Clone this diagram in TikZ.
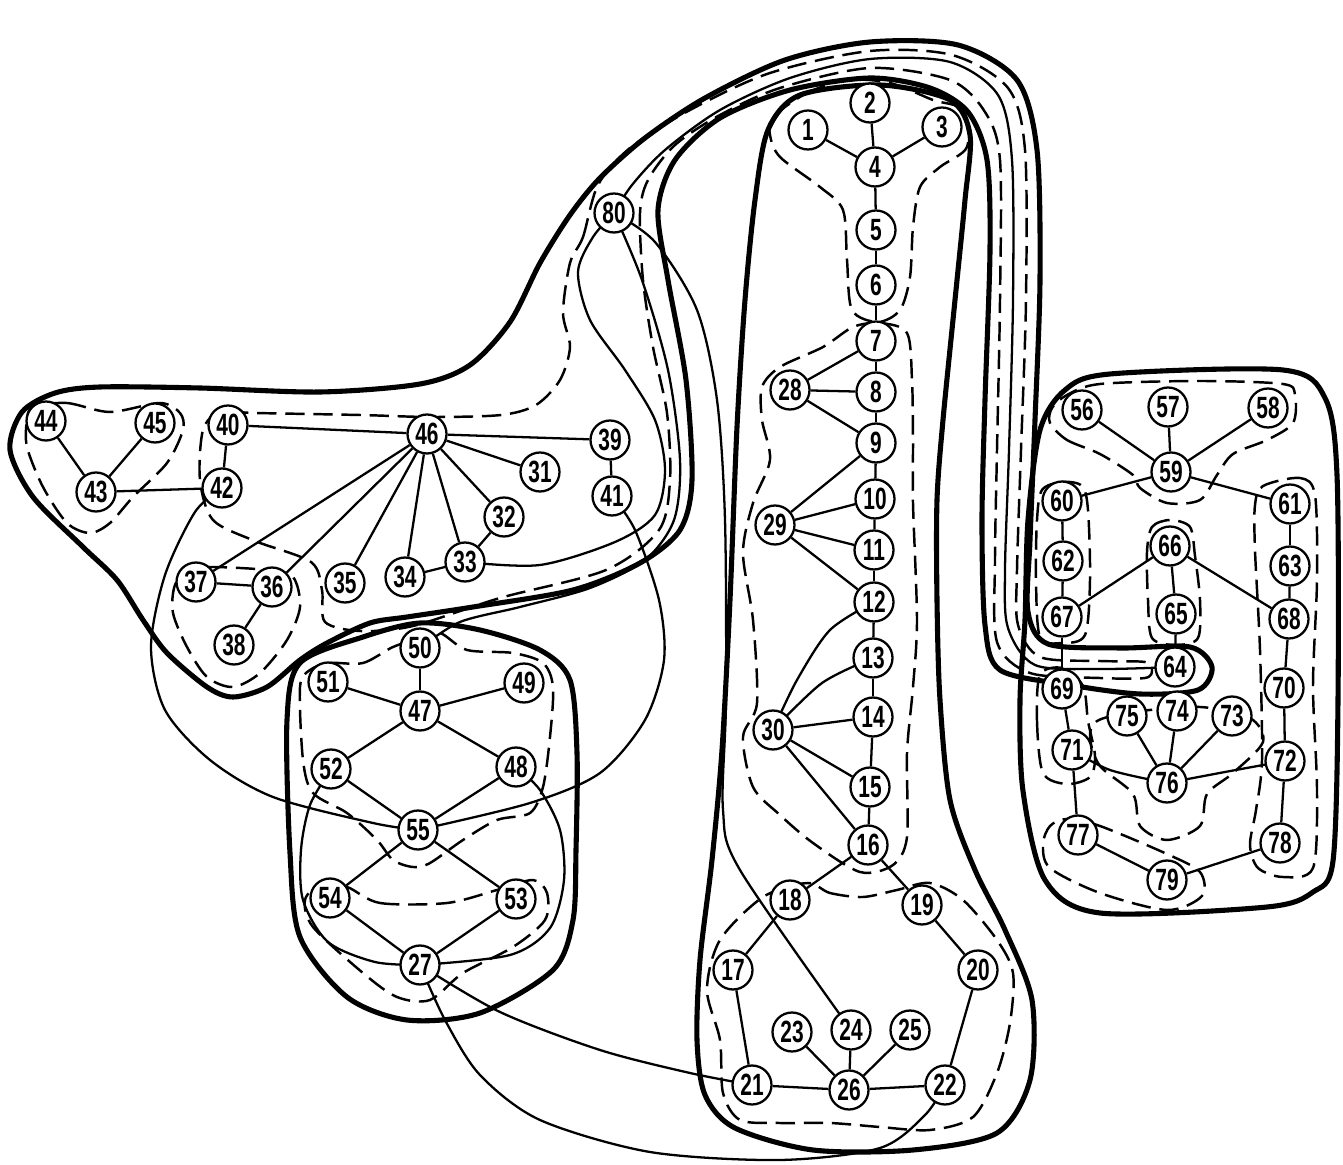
\documentclass[tikz,border=0pt]{standalone}
\usepackage{fontspec}
\newfontfamily\nfont[FakeStretch=0.68]{Liberation Sans}
\usetikzlibrary{backgrounds}
\begin{document}
\begin{tikzpicture}[x=0.02cm,y=-0.02cm,
  nd/.style={circle,draw,line width=1.3pt,fill=white,minimum size=0.78cm,inner sep=0pt,font=\nfont\bfseries\fontsize{17.5}{17.5}\selectfont},
  ed/.style={line width=1.3pt},
  thk/.style={line width=2.9pt,line join=round},
  dsh/.style={line width=1.4pt,dash pattern=on 11pt off 5pt}]
\useasboundingbox (0,0) rectangle (1343,1165);
% nodes
\foreach \n/\x/\y in {1/808/130,2/870/103,3/942/127,4/875/167,5/876/230,6/876/285,7/876/341,8/876/392,9/876/443,10/875/499,11/874/550,12/874/602,13/873/658,14/873/717,15/870/787,16/868/845,17/733/970,18/790/900,19/922/905,20/978/970,21/752/1085,22/945/1085,23/792/1032,24/851/1030,25/910/1030,26/849/1090,27/420/965,28/790/390,29/775/525,30/773/730,31/540/472,32/504/517,33/465/562,34/405/577,35/345/583,36/272/587,37/196/582,38/234/645,39/610/440,40/228/425,41/612/496,42/222/488,43/96/492,44/46/421,45/155/423,46/427/434,47/420/711,48/516/767,49/524/683,50/420/648,51/328/682,52/331/769,53/516/899,54/330/898,55/418/830,56/1082/410,57/1168/407,58/1268/408,59/1171/472,60/1062/501,61/1290/504,62/1063/561,63/1290/566,64/1175/667,65/1176/614,66/1170/546,67/1062/617,68/1289/619,69/1062/689,70/1284/688,71/1072/750,72/1285/761,73/1232/716,74/1177/711,75/1127/716,76/1167/783,77/1078/835,78/1280/843,79/1167/880,80/614/213}
  \node[nd] (n\n) at (\x,\y) {\n};
\begin{scope}[on background layer]
% straight edges
\foreach \a/\b in {1/4,2/4,3/4,4/5,5/6,6/7,7/8,7/28,28/8,28/9,8/9,9/10,9/29,29/10,29/11,29/12,10/11,11/12,12/13,14/30,15/30,16/30,13/14,14/15,15/16,16/18,16/19,18/17,19/20,17/21,20/22,21/26,26/22,23/26,24/26,25/26,
  40/42,40/46,43/42,44/43,45/43,46/39,46/31,46/32,46/33,46/34,46/35,46/36,46/37,32/33,33/34,37/36,36/38,39/41,
  50/47,51/47,49/47,52/47,48/47,52/55,48/55,55/54,55/53,54/27,53/27,
  56/59,57/59,58/59,59/60,59/61,60/62,62/67,61/63,63/68,66/67,66/65,66/68,65/64,67/69,68/70,70/72,69/71,71/77,72/78,73/76,74/76,75/76,77/79,78/79}
  \draw[ed] (n\a) -- (n\b);
% curved edges
\draw[ed] plot[smooth] coordinates {(n71) (1110,770) (n76)};
\draw[ed] plot[smooth] coordinates {(n72) (1225,772) (n76)};
\draw[ed] plot[smooth] coordinates {(n12) (830,630) (797,680) (n30)};
\draw[ed] plot[smooth] coordinates {(n13) (822,683) (n30)};
\draw[ed] plot[smooth] coordinates {(n80) (632,185) (665,150) (720,110) (790,78) (870,59) (950,62) (998,95) (1012,160) (1013,300) (1009,450) (1005,570) (1008,628) (1035,665) (1100,669) (n64)};
\draw[ed] plot[smooth] coordinates {(n80) (593,237) (578,272) (590,320) (625,370) (655,420) (665,470) (655,515) (615,542) (540,565) (n33)};
\draw[ed] plot[smooth] coordinates {(n80) (655,242) (697,310) (717,400) (725,520) (726,700) (723,810) (740,870) (n24)};
\draw[ed] plot[smooth] coordinates {(n80) (642,280) (668,370) (680,460) (674,520) (645,560) (590,588) (520,607) (460,622) (n50)};
\draw[ed] plot[smooth] coordinates {(n42) (195,512) (165,575) (151,647) (165,710) (210,760) (273,797) (373,823) (n55)};
\draw[ed] plot[smooth] coordinates {(n41) (635,530) (659,600) (664,660) (645,720) (600,773) (530,803) (n55)};
\draw[ed] plot[smooth] coordinates {(n52) (310,805) (301,850) (303,900) (328,942) (375,962) (n27)};
\draw[ed] plot[smooth] coordinates {(n48) (540,790) (560,830) (564,880) (550,928) (510,955) (n27)};
\draw[ed] plot[smooth] coordinates {(n27) (500,1012) (600,1050) (690,1073) (n21)};
\draw[ed] plot[smooth] coordinates {(n27) (445,1020) (480,1075) (540,1120) (650,1152) (780,1160) (880,1148) (925,1115) (n22)};
% thick boundaries
\draw[thk] plot[smooth cycle] coordinates {(10,450) (22,412) (55,393) (100,387) (200,388) (320,392) (420,384) (470,365) (510,322) (540,263) (570,215) (600,178) (645,138) (705,98) (785,60) (870,42) (958,45) (1017,80) (1037,150) (1040,280) (1035,420) (1030,540) (1028,612) (1048,644) (1120,648) (1190,647) (1212,667) (1198,690) (1140,694) (1070,685) (1000,670) (985,625) (982,520) (985,400) (990,250) (987,160) (968,112) (930,88) (870,78) (790,90) (720,118) (675,160) (658,210) (668,280) (686,380) (692,480) (680,530) (640,563) (573,590) (473,607) (407,617) (370,623) (327,643) (300,660) (267,687) (233,697) (207,687) (167,653) (143,620) (117,580) (83,547) (33,497)};
\draw[thk] plot[smooth cycle] coordinates {(800,95) (768,130) (755,200) (745,300) (737,427) (730,600) (722,750) (712,860) (700,960) (697,1040) (705,1095) (735,1128) (813,1150) (913,1150) (997,1133) (1030,1080) (1032,1000) (1005,930) (975,870) (950,800) (940,700) (937,600) (937,500) (943,420) (955,300) (965,200) (970,135) (950,100) (880,85)};
\draw[thk] plot[smooth cycle] coordinates {(300,663) (363,637) (420,623) (480,630) (540,650) (570,680) (577,753) (576,850) (573,920) (553,970) (480,1013) (407,1020) (347,997) (300,937) (290,853) (287,720)};
\draw[thk] plot[smooth cycle] coordinates {(1040,430) (1065,390) (1110,374) (1283,370) (1325,398) (1337,475) (1338,700) (1333,861) (1313,892) (1267,907) (1100,913) (1045,880) (1023,791) (1020,700) (1025,620) (1028,520)};
% dashed boundaries
\draw[dsh] plot[smooth cycle] coordinates {(570,263) (583,237) (598,185) (630,148) (690,110) (770,73) (870,51) (952,55) (1008,88) (1025,150) (1026,300) (1021,450) (1017,570) (1018,625) (1040,657) (1100,661) (1145,662) (1152,670) (1145,678) (1100,678) (1030,673) (997,642) (995,560) (997,450) (1000,300) (1000,160) (985,112) (950,80) (870,68) (780,88) (720,115) (675,145) (648,180) (640,213) (643,280) (653,347) (667,413) (670,480) (659,530) (606,570) (500,598) (413,626) (360,631) (325,622) (322,590) (311,562) (255,541) (213,520) (200,480) (203,430) (220,412) (255,413) (360,415) (431,417) (501,415) (536,405) (560,380) (570,347) (563,313)};
\draw[dsh] plot[smooth cycle] coordinates {(33,407) (67,403) (110,412) (160,403) (180,413) (183,430) (167,463) (133,497) (110,523) (90,533) (67,523) (43,487) (27,447) (27,420)};
\draw[dsh] plot[smooth cycle] coordinates {(213,567) (267,570) (293,577) (300,607) (287,640) (260,673) (233,687) (207,677) (187,647) (173,613) (175,585) (190,570)};
\draw[dsh] plot[smooth cycle] coordinates {(773,117) (807,93) (847,80) (890,83) (933,100) (963,110) (967,147) (940,167) (920,187) (913,227) (910,277) (900,310) (878,322) (852,310) (847,260) (843,210) (820,187) (780,157) (770,135)};
\draw[dsh] plot[smooth cycle] coordinates {(853,327) (880,323) (907,333) (912,380) (913,440) (913,503) (917,620) (913,687) (907,753) (907,837) (893,865) (860,872) (813,843) (780,815) (753,787) (743,737) (757,703) (753,620) (743,553) (753,503) (770,460) (762,420) (762,387) (780,367) (823,347)};
\draw[dsh] plot[smooth cycle] coordinates {(807,883) (830,893) (863,897) (897,890) (930,883) (963,900) (997,940) (1013,973) (1010,1023) (997,1073) (973,1117) (930,1130) (880,1127) (830,1123) (780,1123) (740,1120) (723,1093) (720,1040) (707,990) (720,940) (763,897)};
\draw[dsh] plot[smooth cycle] coordinates {(330,663) (363,663) (393,647) (420,638) (440,633) (467,650) (513,653) (543,663) (553,687) (550,737) (543,787) (530,813) (497,820) (463,840) (430,863) (413,867) (393,860) (377,840) (347,813) (313,793) (303,760) (300,687) (310,670)};
\draw[dsh] plot[smooth cycle] coordinates {(347,887) (380,903) (447,903) (497,890) (533,880) (547,893) (545,920) (513,947) (463,973) (430,1000) (397,997) (363,973) (313,927) (305,900) (320,885)};
\draw[dsh] plot[smooth cycle] coordinates {(1050,423) (1067,440) (1100,454) (1133,475) (1140,488) (1167,503) (1200,500) (1217,475) (1233,454) (1267,440) (1293,423) (1295,395) (1283,384) (1200,381) (1100,384) (1067,395) (1052,408)};
\draw[dsh] plot[smooth cycle] coordinates {(1042,490) (1062,482) (1082,486) (1088,510) (1090,580) (1085,635) (1062,643) (1040,637) (1036,580) (1037,520)};
\draw[dsh] plot[smooth cycle] coordinates {(1147,552) (1152,527) (1170,520) (1190,527) (1195,556) (1200,600) (1198,638) (1176,645) (1152,638) (1148,600)};
\draw[dsh] plot[smooth cycle] coordinates {(1263,486) (1300,478) (1315,495) (1317,580) (1313,686) (1317,790) (1313,868) (1283,877) (1258,868) (1250,845) (1256,810) (1262,760) (1260,650) (1255,550) (1255,505)};
\draw[dsh] plot[smooth cycle] coordinates {(1040,675) (1037,721) (1043,773) (1067,784) (1090,777) (1095,756) (1088,721) (1083,686) (1062,668)};
\draw[dsh] plot[smooth cycle] coordinates {(1097,721) (1133,712) (1200,707) (1250,718) (1263,742) (1233,773) (1207,794) (1200,826) (1167,840) (1140,826) (1133,794) (1100,766) (1090,738)};
\draw[dsh] plot[smooth cycle] coordinates {(1050,826) (1067,819) (1100,826) (1167,854) (1200,872) (1202,896) (1167,910) (1100,893) (1050,868) (1043,844)};
\end{scope}
\end{tikzpicture}
\end{document}
